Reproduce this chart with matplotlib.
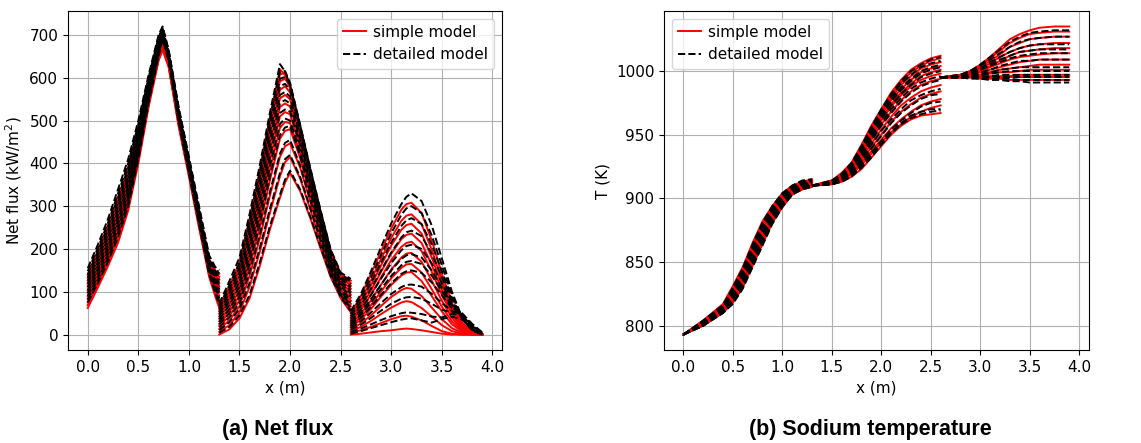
import matplotlib
matplotlib.use("Agg")
import matplotlib.pyplot as plt

# ---- panel (a): net flux, three passes (kW/m2) ----
x_flux1 = [0.0, 0.1, 0.2, 0.3, 0.4, 0.5, 0.6, 0.7, 0.74, 0.8, 0.9, 1.0, 1.1, 1.2, 1.26, 1.3]
x_flux2 = [1.3, 1.4, 1.5, 1.6, 1.7, 1.8, 1.9, 1.95, 2.0, 2.1, 2.2, 2.3, 2.4, 2.5, 2.6]
x_flux3 = [2.6, 2.7, 2.8, 2.9, 3.0, 3.1, 3.15, 3.2, 3.3, 3.4, 3.5, 3.6, 3.7, 3.8, 3.9]

flux1_simple = [
    [140, 195, 255, 320, 390, 485, 590, 680, 700, 650, 520, 405, 290, 175, 150, 142],
    [133, 187, 246, 311, 381, 477, 585, 676, 697, 648, 517, 402, 286, 171, 144, 135],
    [126, 180, 238, 301, 372, 470, 579, 673, 694, 645, 514, 398, 283, 168, 139, 128],
    [119, 172, 229, 292, 363, 462, 574, 669, 690, 643, 510, 395, 279, 164, 133, 120],
    [112, 164, 221, 282, 354, 454, 568, 665, 687, 641, 507, 392, 276, 161, 128, 113],
    [104, 157, 212, 273, 345, 447, 563, 662, 684, 638, 504, 389, 272, 157, 122, 106],
    [98, 149, 203, 263, 335, 439, 557, 658, 681, 636, 501, 386, 268, 153, 117, 99],
    [90, 141, 195, 254, 326, 431, 552, 655, 678, 634, 498, 382, 265, 150, 111, 91],
    [83, 133, 186, 244, 317, 424, 546, 651, 674, 632, 494, 379, 261, 146, 106, 84],
    [76, 126, 178, 235, 308, 416, 541, 647, 671, 629, 491, 376, 257, 142, 100, 77],
    [69, 118, 169, 225, 299, 408, 535, 644, 668, 627, 488, 373, 254, 139, 95, 69],
    [62, 110, 160, 215, 290, 400, 530, 640, 665, 625, 485, 370, 250, 135, 90, 62],
]
flux1_detailed = [
    [155, 210, 270, 340, 410, 500, 605, 700, 720, 665, 530, 415, 300, 185, 158, 150],
    [148, 202, 261, 330, 400, 492, 599, 695, 717, 663, 527, 412, 296, 181, 153, 143],
    [140, 194, 252, 320, 390, 484, 593, 691, 715, 661, 524, 408, 292, 177, 147, 135],
    [133, 185, 243, 309, 380, 475, 587, 686, 712, 658, 520, 405, 289, 173, 142, 128],
    [126, 177, 234, 299, 370, 467, 581, 682, 709, 656, 517, 401, 285, 169, 136, 121],
    [119, 169, 225, 289, 360, 459, 575, 677, 706, 654, 514, 398, 281, 165, 131, 114],
    [111, 161, 215, 279, 350, 451, 570, 673, 704, 651, 511, 395, 277, 161, 125, 106],
    [104, 153, 206, 269, 340, 443, 564, 668, 701, 649, 508, 391, 273, 158, 120, 99],
    [97, 145, 197, 259, 330, 435, 558, 664, 698, 647, 505, 388, 270, 154, 114, 92],
    [90, 136, 188, 248, 320, 426, 552, 659, 695, 644, 501, 385, 266, 150, 109, 85],
    [82, 128, 179, 238, 310, 418, 546, 655, 693, 642, 498, 381, 262, 146, 103, 77],
    [75, 120, 170, 228, 300, 410, 540, 650, 690, 640, 495, 378, 258, 142, 98, 70],
]
flux2_simple = [
    [65, 115, 168, 270, 382, 505, 620, 606, 575, 482, 382, 287, 196, 142, 126],
    [60, 106, 158, 258, 370, 495, 608, 612, 582, 485, 383, 286, 194, 138, 120],
    [54, 97, 148, 246, 356, 480, 592, 598, 580, 481, 378, 282, 190, 133, 114],
    [48, 88, 137, 232, 340, 463, 572, 580, 566, 472, 372, 276, 185, 128, 107],
    [42, 79, 126, 218, 323, 445, 552, 560, 550, 462, 364, 270, 180, 122, 100],
    [37, 70, 115, 204, 306, 426, 532, 540, 533, 450, 355, 263, 174, 116, 93],
    [31, 61, 104, 190, 289, 406, 510, 520, 515, 438, 346, 256, 168, 110, 86],
    [25, 52, 92, 174, 270, 384, 483, 497, 494, 423, 335, 248, 162, 104, 79],
    [20, 43, 80, 158, 250, 360, 458, 476, 480, 412, 326, 241, 156, 98, 72],
    [13, 33, 66, 138, 224, 324, 415, 440, 447, 390, 311, 231, 150, 93, 66],
    [6, 22, 52, 112, 193, 284, 370, 403, 415, 364, 292, 217, 142, 89, 59],
    [0, 12, 38, 85, 160, 245, 320, 355, 378, 335, 272, 202, 135, 85, 52],
]
flux2_detailed = [
    [72, 125, 180, 282, 395, 518, 632, 615, 582, 488, 388, 292, 200, 145, 130],
    [66, 115, 168, 268, 380, 505, 615, 616, 588, 490, 388, 290, 197, 141, 124],
    [60, 106, 157, 256, 366, 490, 598, 602, 585, 486, 383, 286, 193, 136, 117],
    [54, 97, 146, 242, 350, 473, 580, 586, 572, 477, 376, 280, 188, 131, 110],
    [48, 87, 135, 228, 333, 455, 560, 567, 556, 467, 368, 274, 183, 125, 103],
    [42, 78, 123, 213, 316, 436, 541, 548, 540, 455, 359, 267, 177, 119, 96],
    [36, 69, 112, 199, 298, 415, 518, 526, 521, 443, 350, 260, 171, 113, 89],
    [30, 59, 100, 183, 279, 393, 492, 505, 500, 428, 340, 252, 165, 107, 82],
    [24, 50, 88, 167, 259, 369, 466, 484, 488, 417, 331, 245, 159, 101, 75],
    [17, 40, 74, 147, 233, 333, 423, 448, 455, 395, 315, 235, 153, 96, 69],
    [10, 29, 60, 121, 202, 293, 378, 410, 420, 368, 296, 221, 145, 92, 62],
    [4, 18, 45, 93, 168, 253, 327, 362, 383, 339, 276, 206, 138, 88, 55],
]
flux3_simple = [
    [50, 90, 142, 195, 248, 292, 305, 308, 284, 220, 142, 74, 28, 8, 0],
    [44, 80, 127, 177, 226, 266, 278, 281, 258, 198, 128, 66, 25, 7, 0],
    [39, 72, 115, 162, 208, 245, 256, 259, 236, 180, 117, 60, 22, 6, 0],
    [34, 64, 103, 147, 189, 223, 233, 236, 214, 163, 104, 53, 19, 5, 0],
    [30, 57, 93, 134, 174, 205, 214, 217, 195, 147, 93, 47, 16, 4, 0],
    [25, 48, 80, 117, 152, 180, 189, 191, 170, 126, 79, 39, 13, 3, 0],
    [21, 41, 69, 101, 132, 156, 164, 165, 145, 106, 65, 31, 10, 2, 0],
    [17, 35, 60, 89, 116, 138, 145, 146, 125, 90, 54, 24, 7, 1, 0],
    [12, 26, 45, 67, 88, 104, 109, 107, 90, 63, 36, 15, 4, 0, 0],
    [8, 18, 32, 48, 63, 75, 78, 76, 62, 42, 22, 8, 2, 0, 0],
    [4, 10, 18, 27, 36, 43, 44, 42, 33, 20, 8, 2, 0, 0, 0],
    [0, 2, 5, 8, 10, 13, 14, 13, 10, 6, 2, 0, 0, 0, 0],
]
flux3_detailed = [
    [55, 95, 148, 205, 260, 305, 322, 330, 312, 255, 178, 100, 40, 10, 0],
    [49, 86, 134, 186, 237, 280, 295, 300, 284, 232, 162, 92, 38, 10, 0],
    [43, 77, 121, 168, 215, 254, 267, 272, 258, 211, 148, 86, 38, 11, 0],
    [37, 68, 107, 150, 192, 227, 239, 243, 230, 189, 134, 80, 38, 12, 0],
    [31, 59, 93, 131, 167, 197, 207, 210, 200, 166, 120, 74, 38, 13, 0],
    [27, 52, 83, 117, 150, 177, 185, 188, 180, 150, 110, 70, 40, 15, 1],
    [23, 46, 75, 107, 137, 162, 170, 172, 165, 138, 102, 66, 42, 18, 2],
    [19, 39, 65, 93, 120, 142, 148, 150, 144, 122, 92, 62, 44, 20, 3],
    [15, 31, 52, 74, 95, 111, 116, 117, 112, 95, 74, 55, 48, 22, 4],
    [11, 23, 39, 56, 72, 84, 87, 88, 84, 72, 58, 52, 50, 25, 5],
    [6, 14, 24, 34, 43, 50, 52, 51, 48, 42, 40, 48, 45, 20, 3],
    [2, 8, 15, 22, 29, 35, 37, 38, 33, 28, 36, 42, 35, 12, 2],
]

# ---- panel (b): sodium temperature (K) ----
x_temp1 = [0.0, 0.2, 0.4, 0.5, 0.6, 0.7, 0.8, 0.9, 1.0, 1.1, 1.2, 1.3]
x_temp2 = [1.3, 1.5, 1.6, 1.7, 1.8, 1.9, 2.0, 2.1, 2.2, 2.3, 2.4, 2.5, 2.6]
x_temp3 = [2.6, 2.8, 2.9, 3.0, 3.1, 3.2, 3.3, 3.4, 3.5, 3.6, 3.75, 3.9]

temp1_simple = [
    [793, 804, 817, 831, 846, 865, 882, 894, 904, 910, 913, 915],
    [793, 804, 816, 830, 845, 863, 880, 893, 903, 909, 912, 914],
    [793, 803, 816, 829, 843, 862, 879, 892, 902, 909, 912, 914],
    [793, 803, 815, 827, 842, 860, 877, 890, 901, 908, 911, 913],
    [793, 802, 814, 826, 840, 858, 875, 889, 900, 907, 910, 913],
    [793, 802, 814, 825, 839, 857, 874, 888, 899, 907, 910, 912],
    [793, 802, 813, 824, 837, 855, 872, 887, 898, 906, 909, 912],
    [793, 801, 812, 822, 836, 853, 870, 886, 897, 905, 909, 911],
    [793, 801, 812, 821, 834, 852, 869, 885, 896, 905, 908, 911],
    [793, 801, 811, 820, 833, 850, 867, 883, 895, 904, 908, 910],
    [793, 800, 811, 819, 831, 849, 866, 882, 894, 903, 907, 910],
    [793, 800, 810, 818, 830, 847, 864, 881, 893, 903, 907, 909],
]
temp1_detailed = [
    [793, 804, 816, 830, 845, 864, 881, 894, 904, 910, 914, 915],
    [793, 803, 816, 829, 844, 862, 880, 893, 903, 909, 913, 914],
    [793, 803, 815, 828, 842, 861, 878, 891, 902, 909, 912, 914],
    [793, 802, 814, 826, 841, 859, 876, 890, 901, 908, 911, 913],
    [793, 802, 814, 825, 839, 857, 875, 889, 900, 907, 911, 913],
    [793, 802, 813, 824, 838, 856, 873, 888, 899, 906, 910, 912],
    [793, 801, 812, 823, 836, 854, 871, 886, 898, 906, 910, 912],
    [793, 801, 812, 821, 835, 852, 870, 885, 897, 905, 909, 911],
    [793, 801, 811, 820, 833, 851, 868, 884, 896, 904, 909, 911],
    [793, 800, 811, 819, 832, 849, 866, 882, 895, 904, 908, 910],
    [793, 800, 810, 818, 830, 848, 865, 881, 894, 903, 908, 910],
    [793, 800, 810, 817, 829, 846, 863, 880, 893, 903, 907, 909],
]
temp2_simple = [
    [910, 914, 920, 928, 942, 957, 970, 983, 993, 1001, 1006, 1010, 1012],
    [910, 914, 919, 927, 941, 956, 969, 981, 991, 999, 1004, 1008, 1010],
    [910, 913, 919, 927, 939, 954, 967, 979, 989, 996, 1002, 1005, 1007],
    [910, 913, 918, 926, 938, 952, 965, 977, 986, 993, 999, 1002, 1004],
    [910, 913, 918, 925, 937, 950, 963, 974, 983, 990, 996, 999, 1001],
    [910, 913, 917, 924, 935, 948, 961, 972, 981, 988, 993, 996, 998],
    [910, 913, 917, 923, 934, 946, 958, 968, 977, 984, 989, 992, 994],
    [910, 912, 916, 922, 932, 943, 954, 964, 973, 979, 984, 987, 989],
    [910, 912, 915, 921, 930, 940, 950, 960, 968, 974, 979, 982, 984],
    [910, 912, 915, 920, 928, 937, 946, 955, 962, 968, 973, 976, 978],
    [910, 912, 914, 919, 926, 935, 944, 952, 958, 964, 968, 971, 973],
    [910, 911, 913, 917, 923, 932, 941, 950, 957, 962, 965, 966, 967],
]
temp2_detailed = [
    [910, 914, 919, 928, 941, 956, 970, 982, 992, 1000, 1005, 1009, 1011],
    [910, 913, 919, 927, 940, 955, 968, 980, 990, 997, 1003, 1006, 1008],
    [910, 913, 918, 926, 939, 953, 966, 978, 987, 994, 1000, 1003, 1005],
    [910, 913, 918, 925, 937, 951, 964, 976, 985, 992, 998, 1001, 1003],
    [910, 913, 917, 924, 936, 949, 962, 973, 982, 989, 995, 998, 1000],
    [910, 912, 917, 923, 934, 947, 959, 970, 979, 986, 991, 994, 996],
    [910, 912, 916, 922, 933, 945, 957, 967, 976, 983, 988, 991, 993],
    [910, 912, 916, 921, 931, 942, 953, 962, 970, 977, 981, 984, 986],
    [910, 912, 915, 920, 929, 939, 949, 959, 967, 973, 978, 981, 982],
    [910, 911, 914, 919, 927, 936, 945, 954, 961, 967, 972, 975, 976],
    [910, 911, 914, 918, 925, 934, 943, 952, 959, 965, 968, 970, 970],
    [910, 911, 913, 917, 924, 932, 942, 951, 958, 963, 966, 968, 969],
]
temp3_simple = [
    [995, 997, 1000, 1005, 1011, 1018, 1025, 1029, 1032, 1034, 1035, 1035],
    [995, 997, 1000, 1004, 1010, 1016, 1022, 1026, 1029, 1030, 1031, 1031],
    [995, 997, 999, 1003, 1008, 1013, 1019, 1022, 1025, 1026, 1027, 1027],
    [995, 996, 998, 1002, 1006, 1011, 1015, 1018, 1020, 1021, 1022, 1022],
    [995, 996, 998, 1001, 1004, 1008, 1012, 1015, 1016, 1017, 1018, 1018],
    [995, 996, 997, 1000, 1003, 1006, 1009, 1011, 1012, 1013, 1014, 1014],
    [995, 996, 997, 999, 1001, 1003, 1005, 1007, 1008, 1009, 1009, 1009],
    [995, 995, 996, 997, 999, 1001, 1002, 1003, 1004, 1005, 1005, 1005],
    [995, 995, 996, 997, 998, 999, 999, 1000, 1001, 1001, 1001, 1001],
    [995, 995, 995, 995, 996, 996, 996, 997, 997, 997, 997, 997],
    [995, 995, 995, 995, 995, 995, 995, 995, 995, 995, 995, 995],
    [995, 995, 995, 994, 994, 994, 993, 993, 993, 993, 993, 993],
]
temp3_detailed = [
    [995, 997, 1000, 1005, 1011, 1017, 1023, 1027, 1030, 1031, 1032, 1032],
    [995, 997, 1000, 1004, 1009, 1014, 1019, 1023, 1025, 1026, 1027, 1027],
    [995, 996, 999, 1002, 1007, 1011, 1015, 1018, 1020, 1021, 1021, 1021],
    [995, 996, 998, 1001, 1005, 1009, 1012, 1015, 1016, 1017, 1017, 1017],
    [995, 996, 998, 1001, 1004, 1007, 1010, 1012, 1013, 1014, 1014, 1014],
    [995, 996, 997, 999, 1001, 1004, 1006, 1008, 1008, 1009, 1009, 1009],
    [995, 995, 996, 998, 999, 1001, 1002, 1003, 1003, 1003, 1003, 1003],
    [995, 995, 996, 997, 998, 999, 1000, 1000, 1000, 1000, 1000, 1000],
    [995, 995, 995, 996, 996, 997, 997, 997, 997, 997, 997, 997],
    [995, 995, 995, 995, 995, 995, 995, 995, 995, 995, 995, 995],
    [995, 995, 995, 994, 994, 994, 994, 993, 993, 993, 993, 993],
    [995, 995, 994, 994, 993, 993, 992, 992, 991, 991, 991, 991],
]

plt.rcParams['font.size'] = 11


def draw_panel(ax, segments):
    # all simple-model curves first, then the detailed ones on top
    first = True
    for xs, simple, _ in segments:
        for row in simple:
            ax.plot(xs, row, color='red', lw=1.4, label='simple model' if first else None)
            first = False
    first = True
    for xs, _, detailed in segments:
        for row in detailed:
            ax.plot(xs, row, color='black', ls='--', lw=1.4,
                    label='detailed model' if first else None)
            first = False
    ax.grid(True)
    ax.set_xlabel('x (m)')
    ax.set_xticks([0.0, 0.5, 1.0, 1.5, 2.0, 2.5, 3.0, 3.5, 4.0])


fig = plt.figure(figsize=(11.41, 4.43), dpi=100)
ax1 = fig.add_axes([0.0596, 0.21, 0.3804, 0.765])
ax2 = fig.add_axes([0.582, 0.21, 0.372, 0.765])

draw_panel(ax1, [(x_flux1, flux1_simple, flux1_detailed),
                 (x_flux2, flux2_simple, flux2_detailed),
                 (x_flux3, flux3_simple, flux3_detailed)])
ax1.set_ylabel('Net flux (kW/m$^2$)')
ax1.legend(loc='upper right', handlelength=1.5, handletextpad=0.5)

draw_panel(ax2, [(x_temp1, temp1_simple, temp1_detailed),
                 (x_temp2, temp2_simple, temp2_detailed),
                 (x_temp3, temp3_simple, temp3_detailed)])
ax2.set_ylabel('T (K)')
ax2.set_yticks([800, 850, 900, 950, 1000])
ax2.legend(loc='upper left', handlelength=1.5, handletextpad=0.5)

fig.text(278 / 1141, 0.03, '(a) Net flux', ha='center', va='center',
         fontsize=15.5, fontweight='bold', family='Liberation Sans')
fig.text(870 / 1141, 0.03, '(b) Sodium temperature', ha='center', va='center',
         fontsize=15.5, fontweight='bold', family='Liberation Sans')

fig.savefig('out.png', dpi=100)
